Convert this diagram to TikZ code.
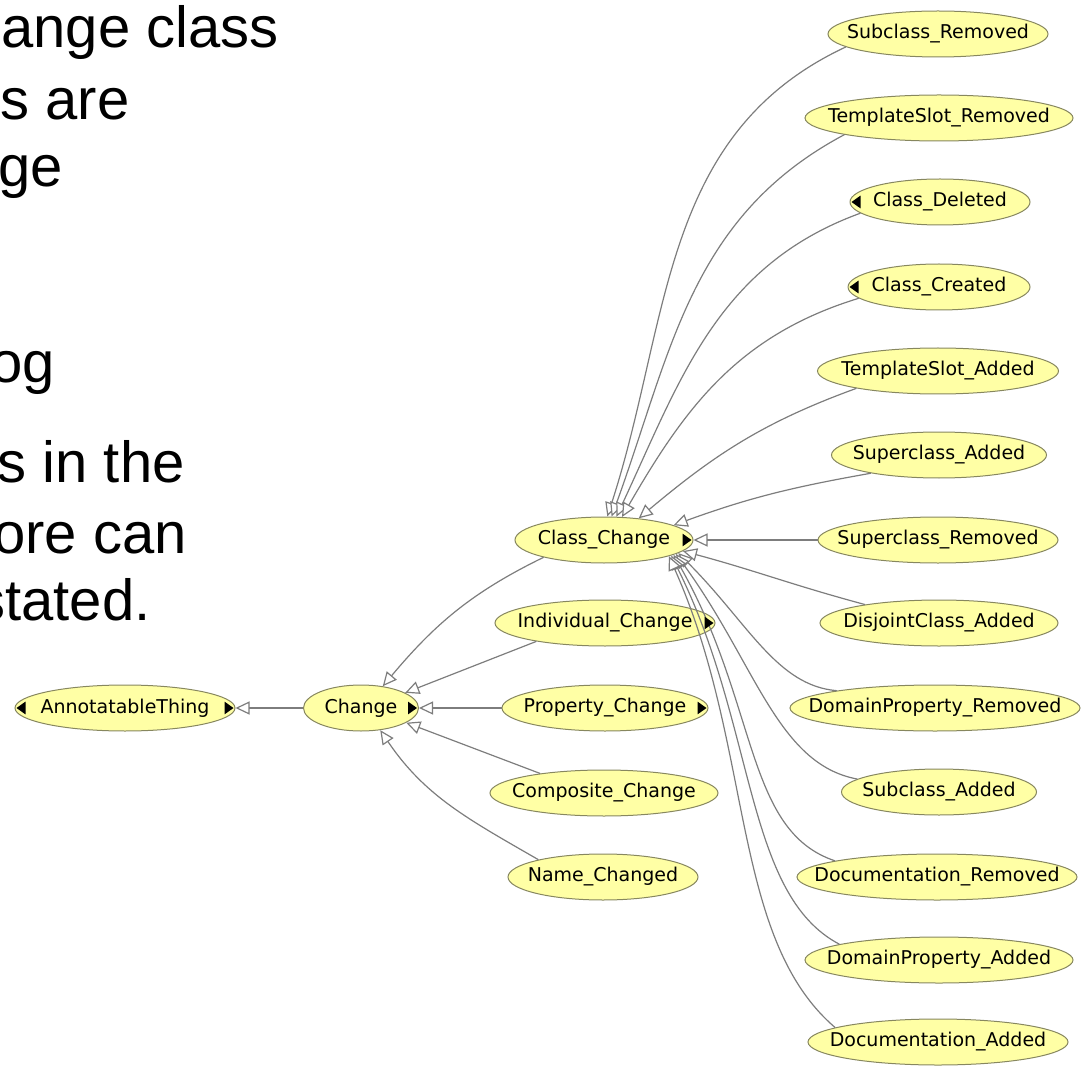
\documentclass[tikz,border=0pt]{standalone}
\usepackage{fontspec}
\usepackage{tikz}
\usetikzlibrary{arrows.meta,shapes.geometric}
\newfontfamily\slidefont{Liberation Sans}
\newfontfamily\clsfont{DejaVu Sans}
\definecolor{clsfill}{RGB}{255,255,165}
\definecolor{clsline}{RGB}{135,135,95}
\definecolor{edgegray}{RGB}{125,125,125}
% small black expand marks inside the ellipses
\newcommand{\markR}[1]{\fill (#1.east) ++(-1pt,0) -- ++(-4.5pt,3.2pt) -- ++(0,-6.4pt) -- cycle;}
\newcommand{\markL}[1]{\fill (#1.west) ++(1pt,0) -- ++(4.5pt,3.2pt) -- ++(0,-6.4pt) -- cycle;}

\begin{document}
\begin{tikzpicture}[x=0.5pt,y=0.5pt,
    cls/.style={ellipse, draw=clsline, fill=clsfill, line width=0.5pt, inner xsep=-40pt, inner ysep=0pt, minimum height=23pt, font=\clsfont\fontsize{9.5}{11}\selectfont},
    isa/.style={draw=edgegray, line width=0.6pt, -{Triangle[fill=white,length=7pt,width=6.5pt]}},
    slide/.style={anchor=base east, inner sep=0pt, font=\slidefont\fontsize{29}{35}\selectfont}]
	\useasboundingbox (0,0) rectangle (1081,-1069);
	\clip (0,0) rectangle (1081,-1069);
	% cut-off slide text
	\node[slide] (t1) at (279,-48) {ange class};
	\node[slide] (t2) at (130,-120) {s are};
	\node[slide] (t3) at (63,-187) {ge};
	\node[slide] (t4) at (55,-383) {og};
	\node[slide] (t5) at (185,-482) {s in the};
	\node[slide] (t6) at (187,-553) {ore can};
	\node[slide] (t7) at (151,-620) {stated.};
	% classes
	\node[cls, minimum width=110pt] (AT) at (125,-708) {AnnotatableThing};
	\node[cls, minimum width=57.5pt] (CH) at (361,-708) {Change};
	\node[cls, minimum width=89pt] (CC) at (604,-540) {Class\_Change};
	\node[cls, minimum width=110pt] (IC) at (605,-623) {Individual\_Change};
	\node[cls, minimum width=103pt] (PC) at (605,-708) {Property\_Change};
	\node[cls, minimum width=114pt] (CoC) at (604,-793) {Composite\_Change};
	\node[cls, minimum width=95pt] (NC) at (603,-877) {Name\_Changed};
	\node[cls, minimum width=110pt] (SR) at (938,-34) {Subclass\_Removed};
	\node[cls, minimum width=134pt] (TSR) at (939,-118) {TemplateSlot\_Removed};
	\node[cls, minimum width=90pt] (CD) at (940,-202) {Class\_Deleted};
	\node[cls, minimum width=91pt] (CCr) at (939,-287) {Class\_Created};
	\node[cls, minimum width=120.5pt] (TSA) at (938,-371) {TemplateSlot\_Added};
	\node[cls, minimum width=107.5pt] (SA) at (939,-455) {Superclass\_Added};
	\node[cls, minimum width=120pt] (SRm) at (938,-540) {Superclass\_Removed};
	\node[cls, minimum width=119pt] (DA) at (939,-623) {DisjointClass\_Added};
	\node[cls, minimum width=145pt] (DPR) at (935,-708) {DomainProperty\_Removed};
	\node[cls, minimum width=97.5pt] (SAd) at (939,-792) {Subclass\_Added};
	\node[cls, minimum width=140pt] (DocR) at (937,-877) {Documentation\_Removed};
	\node[cls, minimum width=134pt] (DPA) at (939,-960) {DomainProperty\_Added};
	\node[cls, minimum width=130pt] (DocA) at (938,-1042) {Documentation\_Added};
	% subclass links
	\draw[isa] (CH.west) -- (AT.east);
	\draw[isa] (PC.west) -- (CH.east);
	\draw[isa] (CC.196) to[out=206,in=50] (CH.45);
	\draw[isa] (IC.195) -- (CH.19);
	\draw[isa] (CoC.163) -- (CH.-18);
	\draw[isa] (NC.165) to[out=150,in=-56] (CH.-49);
	\draw[isa] (SR.188) to[out=205,in=72] (CC.82);
	\draw[isa] (TSR.190) to[out=208,in=70] (CC.72);
	\draw[isa] (CD.188) to[out=200,in=65] (CC.62);
	\draw[isa] (CCr.188) to[out=197,in=60] (CC.52);
	\draw[isa] (TSA.192) to[out=200,in=40] (CC.32);
	\draw[isa] (SA.195) to[out=190,in=20] (CC.12);
	\draw[isa] (SRm.west) -- (CC.east);
	\draw[isa] (DA.166) to[out=165,in=-15] (CC.-8);
	\draw[isa] (DPR.170) .. controls +(-60,5) and +(70,-70) .. (CC.-10);
	\draw[isa] (SAd.171) .. controls +(-80,15) and +(80,-110) .. (CC.-11);
	\draw[isa] (DocR.171) .. controls +(-90,30) and +(85,-150) .. (CC.-12);
	\draw[isa] (DPA.171) .. controls +(-95,50) and +(85,-170) .. (CC.-13);
	\draw[isa] (DocA.172) .. controls +(-105,90) and +(85,-190) .. (CC.-14);
	% expand marks
	\markL{AT} \markR{AT}
	\markR{CH} \markR{CC} \markR{IC} \markR{PC}
	\markL{CD} \markL{CCr}
\end{tikzpicture}
\end{document}
